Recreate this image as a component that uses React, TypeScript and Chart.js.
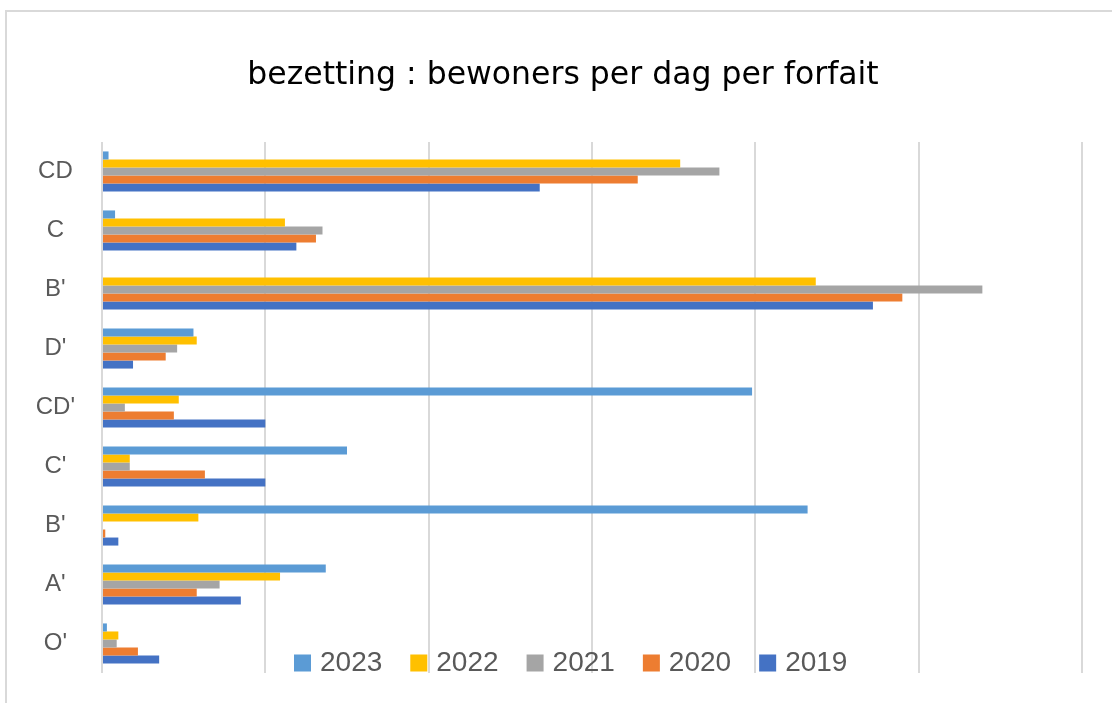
import React, { useEffect, useRef } from "react";
import { Chart, registerables } from "chart.js";

Chart.register(...registerables);

const categories = ["CD", "C", "B'", "D'", "CD'", "C'", "B'", "A'", "O'"];
const seriesNames = ["2023", "2022", "2021", "2020", "2019"];
const values2023 = [0.4, 0.8, 0, 5.6, 39.8, 15.0, 43.2, 13.7, 0.3];
const values2022 = [35.4, 11.2, 43.7, 5.8, 4.7, 1.7, 5.9, 10.9, 1.0];
const values2021 = [37.8, 13.5, 53.9, 4.6, 1.4, 1.7, 0, 7.2, 0.9];
const values2020 = [32.8, 13.1, 49.0, 3.9, 4.4, 6.3, 0.2, 5.8, 2.2];
const values2019 = [26.8, 11.9, 47.2, 1.9, 10.0, 10.0, 1.0, 8.5, 3.5];
const seriesColors = ["#5B9BD5", "#FFC000", "#A5A5A5", "#ED7D31", "#4472C4"];
const titleText = "bezetting : bewoners per dag per forfait";

const frameTitle = {
  id: "frameTitle",
  afterDraw(chart: any) {
    const ctx = chart.ctx;
    ctx.save();
    ctx.font = "31.5px 'DejaVu Sans', sans-serif";
    ctx.fillStyle = "#000000";
    ctx.textAlign = "center";
    ctx.textBaseline = "alphabetic";
    ctx.fillText(titleText, 563, 84);
    ctx.restore();
  },
};

const insideLegend = {
  id: "insideLegend",
  afterDraw(chart: any) {
    const ctx = chart.ctx;
    const items = chart.data.datasets;
    let x = 294;
    const yc = 663;
    const box = 17;
    ctx.save();
    ctx.font = "28px 'Liberation Sans', Arial, sans-serif";
    ctx.textBaseline = "middle";
    ctx.textAlign = "left";
    items.forEach((ds: any) => {
      ctx.fillStyle = ds.backgroundColor;
      ctx.fillRect(x, yc - box / 2, box, box);
      x += box + 9;
      ctx.fillStyle = "#595959";
      ctx.fillText(ds.label, x, yc);
      x += ctx.measureText(ds.label).width + 28;
    });
    ctx.restore();
  },
};

export default function App() {
  const ref = useRef<HTMLCanvasElement>(null);
  useEffect(() => {
    if (!ref.current) return;
    const all = [values2023, values2022, values2021, values2020, values2019];
    const chart = new Chart(ref.current, {
      type: "bar",
      data: {
        labels: categories,
        datasets: seriesNames.map((name, i) => ({
          label: name,
          data: all[i],
          backgroundColor: seriesColors[i],
          borderWidth: 0,
          categoryPercentage: 0.68,
          barPercentage: 1,
        })),
      },
      options: {
        indexAxis: "y",
        animation: false,
        responsive: true,
        maintainAspectRatio: false,
        layout: { padding: { left: 0, right: 30, top: 142, bottom: 30 } },
        plugins: {
          legend: { display: false },
          tooltip: { enabled: false },
          title: { display: false },
        },
        scales: {
          x: {
            min: 0,
            max: 60,
            ticks: { display: false, stepSize: 10 },
            grid: { color: "#D9D9D9", lineWidth: 2, drawTicks: false },
            border: { display: false },
          },
          y: {
            grid: { display: false, drawTicks: false },
            border: { display: false },
            ticks: {
              color: "#595959",
              font: { family: "'Liberation Sans', Arial, sans-serif", size: 24 },
              padding: 27,
              crossAlign: "center",
            },
            afterFit: (scale: any) => {
              scale.width = 102;
              scale.paddingTop = 0;
              scale.paddingBottom = 0;
            },
          },
        },
      },
      plugins: [frameTitle, insideLegend],
    });
    return () => chart.destroy();
  }, []);

  return (
    <div
      style={{
        position: "absolute",
        left: 0,
        top: 0,
        width: 1112,
        height: 703,
        overflow: "hidden",
        background: "#ffffff",
      }}
    >
      <div
        style={{
          position: "absolute",
          left: 5,
          top: 10,
          width: 1200,
          height: 800,
          borderLeft: "2px solid #D9D9D9",
          borderTop: "2px solid #D9D9D9",
        }}
      />
      <div style={{ position: "absolute", left: 0, top: 0, width: 1112, height: 703 }}>
        <canvas ref={ref} />
      </div>
    </div>
  );
}
